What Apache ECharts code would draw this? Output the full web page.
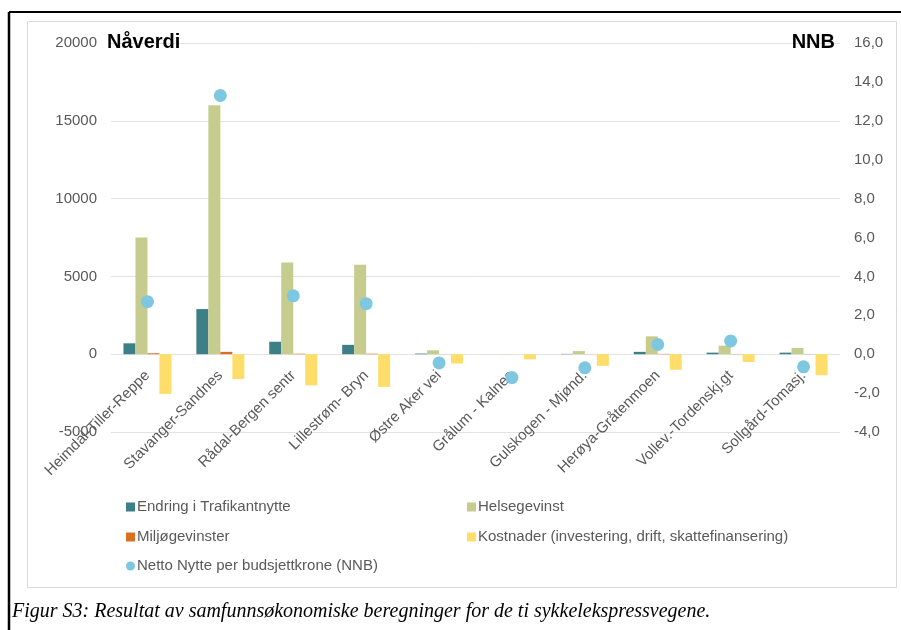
<!DOCTYPE html>
<html>
<head>
<meta charset="utf-8">
<script src="https://cdn.jsdelivr.net/npm/echarts@6/dist/echarts.min.js"></script>
<style>
html,body{margin:0;padding:0;background:#fff;}
#chart{width:901px;height:630px;}
</style>
</head>
<body>
<div id="chart"></div>
<script>
var categories = ["Heimdal-Tiller-Reppe","Stavanger-Sandnes","Rådal-Bergen sentr","Lillestrøm- Bryn","Østre Aker vei","Grålum - Kalnes","Gulskogen - Mjønd.","Herøya-Gråtenmoen","Vollev.-Tordenskj.gt","Sollgård-Tomasj."];
var trafikantnytte = [700, 2900, 800, 600, 40, 0, 20, 150, 100, 100];
var helsegevinst = [7500, 16000, 5900, 5750, 250, 10, 200, 1150, 550, 400];
var miljogevinster = [60, 150, 30, 30, 5, 0, 5, 20, 10, 10];
var kostnader = [-2550, -1600, -2000, -2100, -600, -330, -750, -1000, -500, -1350];
var nnb = [2.7, 13.3, 3.0, 2.6, -0.45, -1.2, -0.7, 0.5, 0.68, -0.65];

var seriesNames = ["Endring i Trafikantnytte","Helsegevinst","Miljøgevinster","Kostnader (investering, drift, skattefinansering)","Netto Nytte per budsjettkrone (NNB)"];
var leftTicks = [-5000, 0, 5000, 10000, 15000, 20000];
var rightTicks = [-4, -2, 0, 2, 4, 6, 8, 10, 12, 14, 16];
var caption = "Figur S3: Resultat av samfunnsøkonomiske beregninger for de ti sykkelekspressvegene.";

var colors = ["#3d7f87", "#c5cc8e", "#d8711f", "#ffdd6a", "#7ec7e0"];
var txt = "#595959";
var font = "Liberation Sans, Arial, sans-serif";

var chart = echarts.init(document.getElementById('chart'), null, {renderer: 'canvas'});

function legendItem(i, left, top, icon) {
  return {
    data: [{name: seriesNames[i], icon: icon}],
    left: left, top: top, orient: 'horizontal',
    itemWidth: 9, itemHeight: 9, itemGap: 0, padding: 0,
    textStyle: {color: txt, fontSize: 15, fontFamily: font, lineHeight: 16, padding: [0,0,0,-3]},
    selectedMode: false
  };
}

var gridTop = 43, gridBottom = 198, gridHeight = 630 - gridTop - gridBottom;
// pixel distance from the bottom of the plot to the zero line of the left axis
var zeroOffset = gridHeight * (0 - leftTicks[0]) / (leftTicks[leftTicks.length-1] - leftTicks[0]);

var option = {
  animation: false,
  backgroundColor: '#fff',
  color: colors,
  grid: {left: 111, right: 61, top: gridTop, bottom: gridBottom, containLabel: false},
  legend: [
    legendItem(0, 126, 499, 'rect'),
    legendItem(1, 467, 499, 'rect'),
    legendItem(2, 126, 529, 'rect'),
    legendItem(3, 467, 529, 'rect'),
    legendItem(4, 126, 558, 'circle')
  ],
  xAxis: {
    type: 'category',
    data: categories,
    position: 'bottom',
    offset: -zeroOffset,
    axisLine: {show: false, onZero: false},
    axisTick: {show: false},
    axisLabel: {rotate: 45, interval: 0, margin: 19, color: txt, fontSize: 15, fontFamily: font},
    splitLine: {show: false}
  },
  yAxis: [
    {
      type: 'value', min: leftTicks[0], max: leftTicks[leftTicks.length-1], interval: 5000,
      axisLine: {show: false}, axisTick: {show: false},
      axisLabel: {margin: 14, color: txt, fontSize: 15, fontFamily: font,
        formatter: function(v){ return String(v); }},
      splitLine: {lineStyle: {color: '#e3e3e3', width: 1}}
    },
    {
      type: 'value', min: rightTicks[0], max: rightTicks[rightTicks.length-1], interval: 2,
      axisLine: {show: false}, axisTick: {show: false},
      axisLabel: {margin: 14, color: txt, fontSize: 15, fontFamily: font,
        formatter: function(v){ return v.toFixed(1).replace('.', ','); }},
      splitLine: {show: false}
    }
  ],
  series: [
    {name: seriesNames[0], type: 'bar', data: trafikantnytte, barWidth: 12, barGap: '0%', itemStyle: {color: colors[0]}},
    {name: seriesNames[1], type: 'bar', data: helsegevinst, barWidth: 12, barGap: '0%', itemStyle: {color: colors[1]}},
    {name: seriesNames[2], type: 'bar', data: miljogevinster, barWidth: 12, barGap: '0%', itemStyle: {color: colors[2]}},
    {name: seriesNames[3], type: 'bar', data: kostnader, barWidth: 12, barGap: '0%', itemStyle: {color: colors[3]}},
    {name: seriesNames[4], type: 'scatter', yAxisIndex: 1, data: nnb, symbolSize: 13, z: 5, itemStyle: {color: colors[4], opacity: 1}}
  ],
  graphic: [
    {type: 'rect', z: -10, silent: true, shape: {x: 27.5, y: 21.5, width: 869, height: 566},
      style: {fill: null, stroke: '#d9d9d9', lineWidth: 1}},
    {type: 'line', silent: true, shape: {x1: 9, y1: 12, x2: 901, y2: 12}, style: {stroke: '#000', lineWidth: 2}},
    {type: 'line', silent: true, shape: {x1: 9, y1: 12, x2: 9, y2: 630}, style: {stroke: '#000', lineWidth: 2.5}},
    {type: 'text', silent: true, left: 107, top: 32, z: 10,
      style: {text: 'Nåverdi', fill: '#000', font: 'bold 20px Liberation Sans, Arial, sans-serif'}},
    {type: 'text', silent: true, right: 66, top: 32, z: 10,
      style: {text: 'NNB', fill: '#000', font: 'bold 20px Liberation Sans, Arial, sans-serif'}},
    {type: 'text', silent: true, left: 12, top: 602, z: 10,
      style: {text: caption, fill: '#000', font: 'italic 20px Liberation Serif, Times New Roman, serif'}}
  ]
};
chart.setOption(option);
</script>
</body>
</html>
